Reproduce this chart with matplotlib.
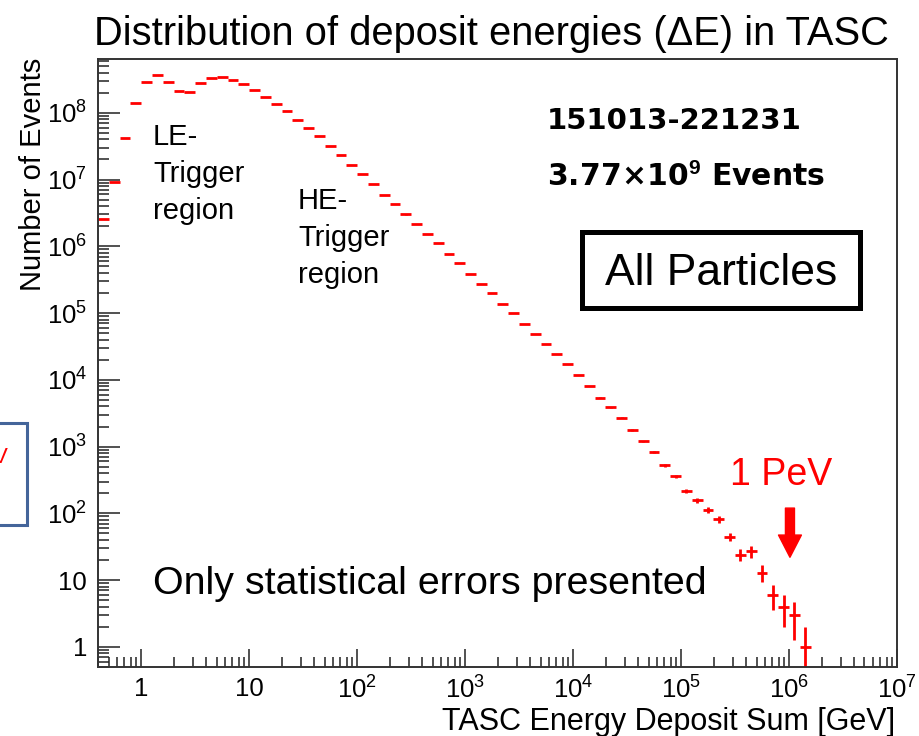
import numpy as np
import matplotlib
matplotlib.use("Agg")
import matplotlib.pyplot as plt
from matplotlib.ticker import FixedLocator, FixedFormatter, LogLocator, NullFormatter
from matplotlib.patches import Rectangle

plt.rcParams['font.family'] = ['Liberation Sans', 'DejaVu Sans']
plt.rcParams['mathtext.fontset'] = 'custom'
plt.rcParams['mathtext.rm'] = 'Liberation Sans'
plt.rcParams['mathtext.it'] = 'Liberation Sans:italic'
plt.rcParams['mathtext.bf'] = 'Liberation Sans:bold'

# histogram: 10 bins per decade, first bin starts at 10^-0.4 GeV
bin_exponents = np.arange(-4, 63) / 10.0
counts = [2.6e6, 9.2e6, 4.2e7, 1.4e8, 2.9e8, 3.7e8, 2.9e8, 2.1e8, 2.05e8, 2.8e8,
          3.3e8, 3.45e8, 3.1e8, 2.7e8, 2.2e8, 1.7e8, 1.35e8, 1.07e8, 7.8e7, 5.9e7,
          4.5e7, 3.2e7, 2.3e7, 1.65e7, 1.2e7, 8.5e6, 5.9e6, 4.3e6, 3.0e6, 2.15e6,
          1.52e6, 1.12e6, 7.6e5, 5.6e5, 3.8e5, 2.7e5, 2.0e5, 1.37e5, 1.0e5, 6.9e4,
          4.9e4, 3.45e4, 2.45e4, 1.74e4, 1.18e4, 8.1e3, 5.4e3, 3.9e3, 2.7e3, 1.78e3,
          1.2e3, 830, 525, 360, 218, 158, 112, 81, 45, 24,
          27, 13, 6, 4, 3, 1]

x_ticks = [1, 10, 1e2, 1e3, 1e4, 1e5, 1e6, 1e7]
x_labels = ['1', '10', r'$\mathregular{10^{2}}$', r'$\mathregular{10^{3}}$',
            r'$\mathregular{10^{4}}$', r'$\mathregular{10^{5}}$',
            r'$\mathregular{10^{6}}$', r'$\mathregular{10^{7}}$']
y_ticks = [1, 10, 1e2, 1e3, 1e4, 1e5, 1e6, 1e7, 1e8]
y_labels = ['1', '10', r'$\mathregular{10^{2}}$', r'$\mathregular{10^{3}}$',
            r'$\mathregular{10^{4}}$', r'$\mathregular{10^{5}}$',
            r'$\mathregular{10^{6}}$', r'$\mathregular{10^{7}}$',
            r'$\mathregular{10^{8}}$']

W, H = 920, 736
fig = plt.figure(figsize=(W / 100, H / 100), dpi=100)
ax = fig.add_axes([98 / W, 1 - 667 / H, (897 - 98) / W, (667 - 59) / H])

edges = 10 ** bin_exponents
lo, hi = edges[:-1], edges[1:]
centers = np.sqrt(lo * hi)
counts = np.array(counts)
ax.errorbar(centers, counts, xerr=[centers - lo, hi - centers], yerr=np.sqrt(counts),
            fmt='none', ecolor='#ff0000', elinewidth=2.0, capsize=0)

ax.set_xscale('log')
ax.set_yscale('log')
ax.set_xlim(10 ** -0.4, 1e7)
ax.set_ylim(0.5, 6.4e8)

ax.xaxis.set_major_locator(FixedLocator(x_ticks))
ax.xaxis.set_major_formatter(FixedFormatter(x_labels))
ax.yaxis.set_major_locator(FixedLocator(y_ticks))
ax.yaxis.set_major_formatter(FixedFormatter(y_labels))
ax.xaxis.set_minor_locator(LogLocator(base=10, subs=np.arange(2, 10), numticks=30))
ax.yaxis.set_minor_locator(LogLocator(base=10, subs=np.arange(2, 10), numticks=30))
ax.xaxis.set_minor_formatter(NullFormatter())
ax.yaxis.set_minor_formatter(NullFormatter())

ax.tick_params(axis='both', which='both', direction='in', width=1.1, color='#222222',
               labelsize=18.5)
ax.tick_params(axis='y', which='major', length=16, pad=8)
ax.tick_params(axis='y', which='minor', length=8)
ax.tick_params(axis='x', which='major', length=13, pad=7)
ax.tick_params(axis='x', which='minor', length=7)
for sp in ax.spines.values():
    sp.set_linewidth(1.4)
    sp.set_color('#333333')

def fx(px):
    return px / W

def fy(py):
    return 1 - py / H

# titles
fig.text(fx(94), fy(45), 'Distribution of deposit energies (\u0394E) in TASC',
         fontsize=28.7, ha='left', va='baseline')
fig.text(fx(33), fy(174), 'Number of Events', fontsize=21, rotation=90,
         ha='center', va='center')
fig.text(fx(895), fy(730), 'TASC Energy Deposit Sum [GeV]', fontsize=22,
         ha='right', va='baseline')

# annotations
fig.text(fx(153), fy(123), 'LE-\nTrigger\nregion', fontsize=21, ha='left', va='top',
         linespacing=1.4)
fig.text(fx(298), fy(187), 'HE-\nTrigger\nregion', fontsize=21, ha='left', va='top',
         linespacing=1.4)
fig.text(fx(547), fy(129), '151013-221231', fontsize=21, fontweight='bold',
         family='DejaVu Sans', ha='left', va='baseline')
fig.text(fx(547), fy(186), '3.77\u00d710$^{\\mathbf{9}}$ Events', fontsize=21.5,
         fontweight='bold', family='DejaVu Sans', ha='left', va='baseline')

fig.add_artist(Rectangle((fx(582.5), fy(307.5)), (860.5 - 582.5) / W, (307.5 - 231.5) / H,
                         transform=fig.transFigure, fill=False, edgecolor='black',
                         linewidth=3.6))
fig.text(fx(605), fy(285), 'All Particles', fontsize=32, ha='left', va='baseline')

fig.text(fx(153), fy(594), 'Only statistical errors presented', fontsize=28.4,
         ha='left', va='baseline')

fig.text(fx(730), fy(485), '1 PeV', fontsize=27, color='#ff0000', ha='left',
         va='baseline')
ax.annotate('', xy=(1.02e6, 22), xytext=(1.02e6, 120),
            arrowprops=dict(facecolor='#ff0000', edgecolor='#ff0000', width=6.5,
                            headwidth=16.5, headlength=16, shrink=0))

# piece of a neighbouring slide element cut at the left edge
fig.add_artist(Rectangle((fx(-20), fy(525)), 47 / W, (525 - 423) / H,
                         transform=fig.transFigure, fill=False, edgecolor='#44659a',
                         linewidth=2.2))
fig.text(fx(0), fy(463), 'V', fontsize=16, color='#ff0000', ha='center', va='baseline')

fig.savefig('out.png', dpi=100)
